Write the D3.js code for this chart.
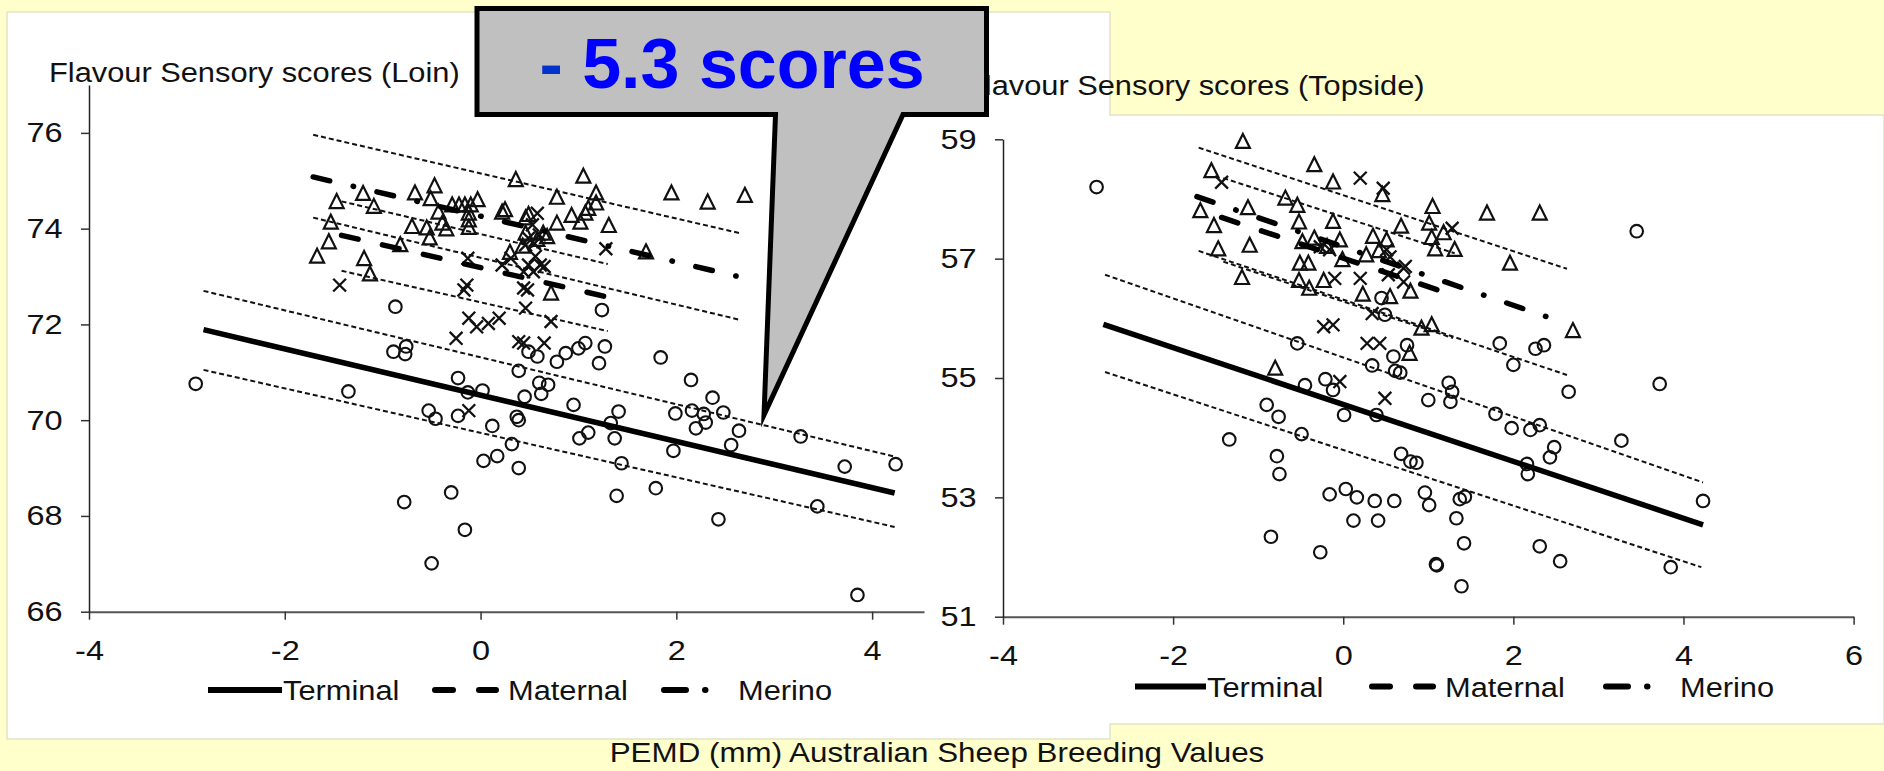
<!DOCTYPE html>
<html>
<head>
<meta charset="utf-8">
<script src="https://cdn.jsdelivr.net/npm/d3@7"></script>
<style>
  html, body { margin: 0; padding: 0; background: #FFFFCC; }
  svg { display: block; font-family: "Liberation Sans", Arial, sans-serif; }
</style>
</head>
<body>
<svg id="chart" width="1884" height="771"></svg>
<script>
// ---------- Loin panel data (PEMD ASBV, flavour score) ----------
const loinTerminal = [
  [-2.91,70.76],[-1.35,70.60],[-0.87,72.37],[-0.89,71.43],[-0.76,71.54],[-0.77,71.38],
  [-0.53,70.20],[-0.46,70.03],[-0.23,70.88],[-0.23,70.09],[-0.13,70.58],[0.02,70.62],
  [0.12,69.88],[0.37,70.07],[0.39,70.00],[0.32,69.50],[0.17,69.25],[0.03,69.15],
  [0.39,69.00],[-0.30,68.49],[-0.78,68.29],[-0.16,67.71],[-0.50,67.01],[0.39,71.03],
  [0.45,70.49],[0.60,70.78],[0.69,70.74],[0.62,70.55],[0.49,71.43],[0.58,71.33],
  [0.78,71.22],[0.87,71.40],[1.00,71.50],[1.07,71.61],[1.21,71.19],[1.27,71.54],
  [1.24,72.30],[1.84,71.31],[0.95,70.32],[1.41,70.18],[1.33,69.94],[1.10,69.74],
  [1.01,69.62],[1.37,69.62],[1.44,69.10],[1.79,68.58],[1.39,68.42],[1.97,69.36],
  [2.15,70.84],[2.37,70.47],[1.99,70.14],[2.16,70.20],[2.28,70.13],[2.30,69.95],
  [2.20,69.83],[2.48,70.16],[2.64,69.78],[2.56,69.48],[2.43,67.93],[3.27,69.66],
  [3.72,69.03],[4.24,69.08],[3.44,68.20],[3.85,66.35]
];
const loinMaternal = [
  [-1.44,72.82],[-0.13,73.38],[-0.14,72.82],[-0.17,72.72],[-0.12,72.13],[-0.04,71.95],
  [0.08,72.02],[0.19,72.13],[-0.25,71.71],[0.22,73.24],[0.31,73.38],[0.44,72.76],
  [0.46,72.34],[0.44,71.61],[0.58,74.32],[0.53,74.08],[0.49,73.80],[0.46,73.66],
  [0.55,73.69],[0.60,73.87],[0.56,73.42],[0.61,73.24],[0.49,73.24],[0.65,73.21],
  [0.44,73.10],[0.54,73.10],[0.48,72.72],[0.72,72.06],[0.39,71.64],[0.65,71.61],
  [1.28,73.58],[-0.12,70.20]
];
const loinMerino = [
  [-1.67,73.42],[-1.55,73.72],[-1.53,74.13],[-1.47,74.56],[-1.20,74.73],[-1.09,74.46],
  [-1.19,73.37],[-1.13,73.05],[-0.82,73.66],[-0.70,74.04],[-0.67,74.74],[-0.55,74.01],
  [-0.52,73.80],[-0.51,74.62],[-0.47,74.89],[-0.43,74.34],[-0.39,74.11],[-0.35,73.99],
  [-0.29,74.49],[-0.22,74.49],[-0.16,74.49],[-0.10,74.49],[-0.03,74.60],[-0.12,74.32],
  [-0.12,74.18],[-0.12,74.02],[0.25,74.39],[0.22,74.34],[0.36,75.02],[0.46,74.22],
  [0.43,73.63],[0.30,73.50],[0.46,73.90],[0.58,73.77],[0.64,73.90],[0.49,74.29],
  [0.78,74.65],[0.78,74.11],[0.68,73.83],[0.93,74.27],[1.02,74.13],[1.05,75.09],
  [1.18,74.74],[1.18,74.53],[1.07,74.32],[1.10,74.42],[1.31,74.06],[0.72,72.65],
  [1.69,73.51],[1.95,74.74],[2.32,74.55],[2.70,74.69]
];
// fitted lines: [fit, upper bound, lower bound], each as two end points
const loinTerminalFit = [[[-2.83,71.89],[4.23,68.48]], [[-2.83,72.70],[4.23,69.24]], [[-2.83,71.05],[4.23,67.77]]];
const loinMaternalFit = [[[-1.42,73.86],[1.30,72.57]], [[-1.42,74.57],[1.30,73.26]], [[-1.42,73.12],[1.30,71.86]]];
const loinMerinoFit   = [[[-1.71,75.08],[2.61,73.01]], [[-1.71,75.96],[2.64,73.91]], [[-1.71,74.23],[2.64,72.10]]];
const loinXTicks = [-4, -2, 0, 2, 4];
const loinYTicks = [66, 68, 70, 72, 74, 76];

// ---------- Topside panel data ----------
const topTerminal = [
  [-2.90,58.20],[-0.54,55.58],[0.45,56.34],[0.49,56.06],[0.34,55.21],[0.59,55.36],
  [0.61,55.12],[0.75,55.55],[-0.45,54.88],[-0.21,54.98],[-0.12,54.80],[-0.90,54.55],
  [-0.76,54.35],[-0.49,54.06],[-1.34,53.97],[0.01,54.38],[0.39,54.38],[0.67,55.09],
  [0.68,53.73],[0.79,53.60],[-0.78,53.69],[-0.75,53.39],[-0.16,53.05],[0.03,53.14],
  [0.16,53.00],[0.37,52.94],[0.60,52.94],[0.12,52.61],[0.41,52.61],[-0.85,52.34],
  [-0.27,52.08],[1.24,54.92],[1.28,54.77],[1.26,54.60],[1.00,54.63],[0.86,53.58],
  [0.96,53.08],[1.01,52.87],[1.37,52.97],[1.43,53.01],[1.33,52.65],[1.42,52.23],
  [1.09,51.88],[1.10,51.86],[1.39,51.51],[1.79,54.40],[1.98,54.16],[2.20,54.13],
  [2.31,54.21],[2.48,53.84],[2.43,53.67],[2.16,53.56],[2.17,53.39],[2.65,54.77],
  [3.27,53.95],[3.72,54.90],[4.23,52.94],[2.31,52.18],[2.55,51.93],[3.85,51.83],
  [2.00,55.22],[1.84,55.58],[2.26,55.49],[2.36,55.55],[3.45,57.46]
];
const topMaternal = [
  [-1.43,58.28],[0.20,58.35],[0.47,58.18],[-0.27,57.20],[-0.16,57.15],[0.51,57.15],
  [0.55,57.03],[-0.10,56.67],[0.20,56.67],[0.53,56.73],[0.71,56.84],[0.73,56.87],
  [0.34,56.08],[-0.23,55.86],[-0.12,55.89],[0.28,55.58],[0.43,55.58],[1.28,57.51],
  [-0.04,54.94],[0.49,54.66],[0.71,56.61]
];
const topMerino = [
  [-1.18,58.96],[-0.34,58.57],[-1.55,58.47],[-0.12,58.28],[0.46,58.07],[-0.68,58.01],
  [-0.54,57.89],[-1.68,57.80],[-1.12,57.85],[-1.52,57.55],[-0.52,57.61],[-0.12,57.62],
  [0.68,57.54],[-1.47,57.16],[-1.10,57.22],[-0.48,57.28],[-0.34,57.34],[-0.04,57.31],
  [-0.19,57.20],[0.35,57.37],[0.51,57.31],[0.42,57.13],[0.27,57.06],[-0.51,56.92],
  [-0.41,56.92],[-0.01,56.98],[-1.19,56.68],[-0.52,56.63],[-0.40,56.50],[-0.23,56.63],
  [0.23,56.40],[0.55,56.36],[-0.80,55.16],[1.05,57.87],[1.69,57.76],[2.31,57.76],
  [1.01,57.59],[1.18,57.43],[1.04,57.35],[1.08,57.16],[1.31,57.15],[1.96,56.92],
  [0.79,56.45],[1.04,55.89],[0.92,55.83],[0.78,55.41],[2.70,55.79]
];
const topTerminalFit = [[[-2.82,55.90],[4.23,52.54]], [[-2.80,56.73],[4.23,53.25]], [[-2.80,55.10],[4.21,51.83]]];
const topMaternalFit = [[[-1.43,57.69],[1.25,56.41]], [[-1.41,58.35],[1.31,57.09]], [[-1.41,56.95],[1.29,55.67]]];
const topMerinoFit   = [[[-1.72,58.04],[2.63,55.91]], [[-1.70,58.86],[2.63,56.83]], [[-1.70,57.13],[2.63,55.05]]];
const topXTicks = [-4, -2, 0, 2, 4, 6];
const topYTicks = [51, 53, 55, 57, 59];

const legendLabels = ["Terminal", "Maternal", "Merino"];
const xAxisTitle = "PEMD (mm) Australian Sheep Breeding Values";
const calloutText = ["-", " 5.3 scores"];

// ---------- drawing ----------
const svg = d3.select("#chart");
const STRETCH = 1.1;        // panel text is drawn slightly wide
const TICK_STRETCH = 1.16;
const FONT = 28;
const INK = "#111";

// white chart panels (one outline around both)
svg.append("path")
  .attr("d", "M7,12 H1110 V115 H1884 V724 H1110 V739 H7 Z")
  .attr("fill", "#fff")
  .attr("stroke", "#E4E4C4")
  .attr("stroke-width", 1.5);

function wideText(parent, x, y, str, anchor, stretch) {
  return parent.append("text")
    .attr("transform", `translate(${x},${y}) scale(${stretch || STRETCH},1)`)
    .attr("text-anchor", anchor || "start")
    .attr("font-size", FONT)
    .attr("fill", INK)
    .text(str);
}

// marker shapes
const markerPath = {
  circle: r => `M${-r},0 A${r},${r} 0 1,0 ${r},0 A${r},${r} 0 1,0 ${-r},0 Z`,
  triangle: s => `M0,${-s * 0.62} L${s * 0.56},${s * 0.5} L${-s * 0.56},${s * 0.5} Z`,
  cross: s => `M${-s},${-s} L${s},${s} M${-s},${s} L${s},${-s}`
};

const panels = [
  {
    title: "Flavour Sensory scores (Loin)", titlePos: [49, 82],
    xDomain: [-4, 4.53], xRange: [89, 924], yDomain: [66, 77], yRange: [611.7, 85],
    xTicks: loinXTicks, yTicks: loinYTicks,
    terminal: loinTerminal, maternal: loinMaternal, merino: loinMerino,
    fits: { terminal: loinTerminalFit, maternal: loinMaternalFit, merino: loinMerinoFit },
    legend: { y: 690, base: 700, lines: [[208, 282], [432, 499], [661, 710]], texts: [283, 508, 738] }
  },
  {
    title: "Flavour Sensory scores (Topside)", titlePos: [966, 95],
    xDomain: [-4, 6], xRange: [1003, 1853.6], yDomain: [51, 59], yRange: [616.7, 139.3],
    xTicks: topXTicks, yTicks: topYTicks,
    terminal: topTerminal, maternal: topMaternal, merino: topMerino,
    fits: { terminal: topTerminalFit, maternal: topMaternalFit, merino: topMerinoFit },
    legend: { y: 686.5, base: 697, lines: [[1135, 1206], [1369, 1436], [1603, 1651]], texts: [1207, 1445, 1680] }
  }
];

panels.forEach(p => {
  const x = d3.scaleLinear().domain(p.xDomain).range(p.xRange);
  const y = d3.scaleLinear().domain(p.yDomain).range(p.yRange);
  const g = svg.append("g");

  // axes
  const xAxis = g.append("g")
    .attr("transform", `translate(0,${p.yRange[0]})`)
    .call(d3.axisBottom(x).tickValues(p.xTicks).tickSize(8).tickSizeOuter(0)
      .tickPadding(20).tickFormat(d => String(d)));
  xAxis.select(".domain").attr("stroke", "#555").attr("stroke-width", 2);
  xAxis.selectAll(".tick line").attr("stroke", "#333").attr("stroke-width", 1.5);
  xAxis.selectAll("text").attr("font-size", FONT).attr("fill", INK)
    .attr("font-family", "Liberation Sans, Arial, sans-serif")
    .attr("transform", `scale(${TICK_STRETCH},1)`);

  const yAxis = g.append("g")
    .attr("transform", `translate(${p.xRange[0]},0)`)
    .call(d3.axisLeft(y).tickValues(p.yTicks).tickSize(8).tickSizeOuter(0)
      .tickPadding(18).tickFormat(d => String(d)));
  yAxis.select(".domain").attr("stroke", "#222").attr("stroke-width", 1.5);
  yAxis.selectAll(".tick line").attr("stroke", "#333").attr("stroke-width", 1.5);
  yAxis.selectAll("text").attr("font-size", FONT).attr("fill", INK)
    .attr("font-family", "Liberation Sans, Arial, sans-serif")
    .attr("x", -26.5 / TICK_STRETCH)
    .attr("transform", `scale(${TICK_STRETCH},1)`);

  wideText(g, p.titlePos[0], p.titlePos[1], p.title, "start");

  // markers
  const plotMarkers = (data, shape, w) => g.append("g").selectAll("path").data(data).join("path")
    .attr("transform", d => `translate(${x(d[0])},${y(d[1])})`)
    .attr("d", shape)
    .attr("fill", "none").attr("stroke", "#111").attr("stroke-width", w);
  plotMarkers(p.terminal, markerPath.circle(6.3), 2.1);
  plotMarkers(p.maternal, markerPath.cross(6.4), 2.3);
  plotMarkers(p.merino, markerPath.triangle(12.5), 2.2);

  // fitted lines and their bounds
  const line = d3.line().x(d => x(d[0])).y(d => y(d[1]));
  const fitStyles = {
    terminal: { dash: null, cap: "butt" },
    maternal: { dash: "17,25", cap: "round" },
    merino: { dash: "17,24,0.5,24", cap: "round" }
  };
  Object.keys(p.fits).forEach(k => {
    const [fit, upper, lower] = p.fits[k];
    [upper, lower].forEach(b => g.append("path").attr("d", line(b))
      .attr("fill", "none").attr("stroke", "#111").attr("stroke-width", 2)
      .attr("stroke-dasharray", "5,3"));
    g.append("path").attr("d", line(fit))
      .attr("fill", "none").attr("stroke", "#000").attr("stroke-width", 5.5)
      .attr("stroke-linecap", fitStyles[k].cap)
      .attr("stroke-dasharray", fitStyles[k].dash);
  });

  // legend
  const L = p.legend;
  const lg = g.append("g");
  const [t0, m0, r0] = L.lines;
  lg.append("line").attr("x1", t0[0]).attr("x2", t0[1]).attr("y1", L.y).attr("y2", L.y)
    .attr("stroke", "#000").attr("stroke-width", 6);
  lg.append("line").attr("x1", m0[0] + 3).attr("x2", m0[1] - 3).attr("y1", L.y).attr("y2", L.y)
    .attr("stroke", "#000").attr("stroke-width", 6).attr("stroke-linecap", "round")
    .attr("stroke-dasharray", "18,26");
  lg.append("line").attr("x1", r0[0] + 3).attr("x2", r0[1]).attr("y1", L.y).attr("y2", L.y)
    .attr("stroke", "#000").attr("stroke-width", 6).attr("stroke-linecap", "round")
    .attr("stroke-dasharray", "22,19,0.5,40");
  legendLabels.forEach((lab, i) => wideText(lg, L.texts[i], L.base, lab, "start"));
});

// shared x axis title
wideText(svg, 937, 762, xAxisTitle, "middle", 1.12);

// callout
svg.append("path")
  .attr("d", "M477,8.5 H986.5 V114.5 H903 L764,415 L775.5,114.5 H477 Z")
  .attr("fill", "#C0C0C0")
  .attr("stroke", "#000")
  .attr("stroke-width", 5)
  .attr("stroke-miterlimit", 10);
const ct = svg.append("text")
  .attr("x", 732).attr("y", 88)
  .attr("text-anchor", "middle")
  .attr("font-size", 70)
  .attr("font-weight", "bold");
ct.append("tspan").attr("fill", "#0033CC").text(calloutText[0]);
ct.append("tspan").attr("fill", "#0000FF").text(calloutText[1]);
</script>
</body>
</html>
